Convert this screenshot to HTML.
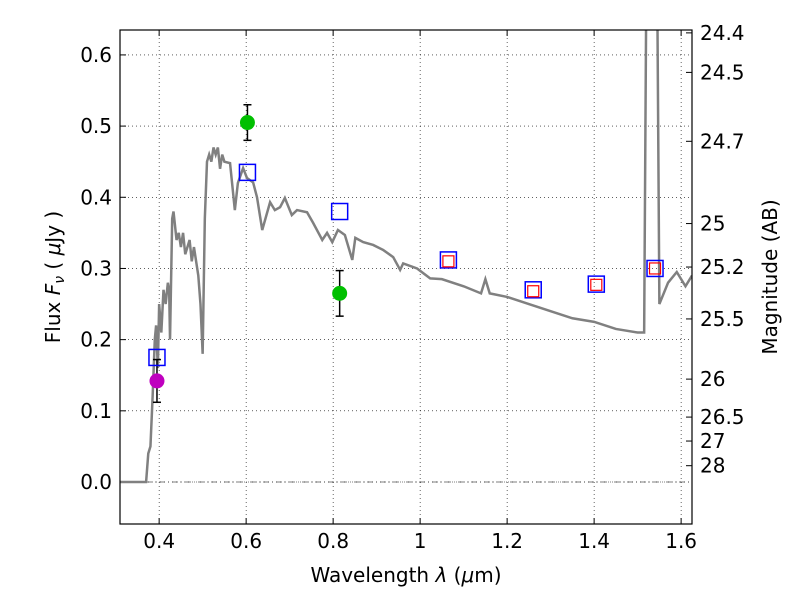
<!DOCTYPE html>
<html><head><meta charset="utf-8"><style>
body{margin:0;background:#fff;}
svg text{font-family:"DejaVu Sans","Liberation Sans",sans-serif;}
</style></head><body>
<svg id="chart" width="800" height="600" xmlns="http://www.w3.org/2000/svg"></svg>
<script>
const xTicks=[0.4,0.6,0.8,1.0,1.2,1.4,1.6];
const xTickLabels=["0.4","0.6","0.8","1","1.2","1.4","1.6"];
const yTicks=[0.0,0.1,0.2,0.3,0.4,0.5,0.6];
const yTickLabels=["0.0","0.1","0.2","0.3","0.4","0.5","0.6"];
const magTicks=[24.4,24.5,24.7,25,25.2,25.5,26,26.5,27,28];
const magLabels=["24.4","24.5","24.7","25","25.2","25.5","26","26.5","27","28"];
const specLam=[0.31,0.37,0.375,0.38,0.385,0.39,0.393,0.397,0.40,0.405,0.41,0.415,0.42,0.423,0.425,0.43,0.433,0.44,0.445,0.45,0.455,0.46,0.47,0.475,0.48,0.485,0.49,0.495,0.50,0.505,0.51,0.515,0.52,0.525,0.53,0.535,0.54,0.545,0.55,0.563,0.574,0.581,0.593,0.602,0.616,0.625,0.637,0.655,0.666,0.678,0.689,0.705,0.717,0.74,0.754,0.775,0.786,0.798,0.811,0.827,0.844,0.851,0.869,0.892,0.915,0.938,0.954,0.961,0.993,1.023,1.05,1.1,1.14,1.15,1.16,1.2,1.25,1.3,1.35,1.4,1.45,1.50,1.515,1.52,1.545,1.55,1.57,1.59,1.61,1.625];
const specFlux=[0,0,0.04,0.05,0.12,0.2,0.22,0.16,0.25,0.21,0.27,0.25,0.28,0.27,0.2,0.37,0.38,0.34,0.35,0.33,0.35,0.32,0.34,0.31,0.33,0.31,0.29,0.25,0.18,0.37,0.45,0.46,0.45,0.47,0.46,0.47,0.44,0.46,0.45,0.448,0.382,0.42,0.441,0.427,0.421,0.40,0.354,0.393,0.382,0.386,0.399,0.375,0.382,0.379,0.364,0.34,0.35,0.337,0.354,0.347,0.312,0.343,0.337,0.333,0.326,0.316,0.298,0.307,0.30,0.286,0.285,0.275,0.265,0.285,0.265,0.26,0.25,0.24,0.23,0.225,0.215,0.21,0.21,0.7,0.7,0.25,0.28,0.295,0.275,0.29];
const greenLam=[0.603,0.815], greenFlux=[0.505,0.265], greenErr=[0.025,0.032];
const purpleLam=[0.395], purpleFlux=[0.142], purpleErr=[0.03];
const blueLam=[0.395,0.603,0.815,1.065,1.26,1.405,1.54], blueFlux=[0.175,0.435,0.38,0.312,0.27,0.278,0.3];
const redLam=[1.065,1.26,1.405,1.54], redFlux=[0.31,0.268,0.277,0.3];

const L=120,R=692,T=30,B=524;
const xmin=0.31,xmax=1.625,ymin=-0.059,ymax=0.635;
const X=v=>L+(v-xmin)/(xmax-xmin)*(R-L);
const Y=v=>B-(v-ymin)/(ymax-ymin)*(B-T);
const svg=document.getElementById('chart');
const NS="http://www.w3.org/2000/svg";
function mk(tag,attrs,parent){const e=document.createElementNS(NS,tag);for(const k in attrs)e.setAttribute(k,attrs[k]);(parent||svg).appendChild(e);return e;}
const defs=mk('defs',{});const cp=mk('clipPath',{id:'clip'},defs);mk('rect',{x:L,y:T,width:R-L,height:B-T},cp);

xTicks.forEach((t,i)=>{
 const g=mk('line',{x1:X(t),x2:X(t),y1:T,y2:B,stroke:'#000','stroke-dasharray':'1,3','stroke-width':0.6});
 
 mk('line',{x1:X(t),x2:X(t),y1:B,y2:B-6,stroke:'#000'});mk('line',{x1:X(t),x2:X(t),y1:T,y2:T+6,stroke:'#000'});
 const tx=mk('text',{x:X(t),y:B+24,'font-size':20,'text-anchor':'middle'});tx.textContent=xTickLabels[i];
 
});
yTicks.forEach((t,i)=>{
 const g=mk('line',{x1:L,x2:R,y1:Y(t),y2:Y(t),stroke:'#000','stroke-dasharray':'1,3','stroke-width':0.6});
 
 mk('line',{x1:L,x2:L+6,y1:Y(t),y2:Y(t),stroke:'#000'});
 const tx=mk('text',{x:L-8,y:Y(t)+7,'font-size':20,'text-anchor':'end'});tx.textContent=yTickLabels[i];
 
});
magTicks.forEach((m,i)=>{
 const f=Math.pow(10,(23.9-m)/2.5);
 mk('line',{x1:R,x2:R-6,y1:Y(f),y2:Y(f),stroke:'#000'});
 const tx=mk('text',{x:R+8,y:Y(f)+7,'font-size':20});tx.textContent=magLabels[i];
 
});
mk('line',{x1:L,x2:R,y1:Y(0),y2:Y(0),stroke:'#000','stroke-dasharray':'6,3,1,3','stroke-width':0.6});

const gp=mk('g',{'clip-path':'url(#clip)'});
const sp=mk('polyline',{points:specLam.map((l,i)=>X(l)+','+Y(specFlux[i])).join(' '),fill:'none',stroke:'#808080','stroke-width':2.5},gp);


function pts(lams,fl,err,color,name){
 lams.forEach((l,i)=>{
  const g=mk('g',{},gp);
  const x=X(l),y1=Y(fl[i]-err[i]),y2=Y(fl[i]+err[i]);
  mk('line',{x1:x,x2:x,y1:y1,y2:y2,stroke:'#000','stroke-width':1.5},g);
  mk('line',{x1:x-4,x2:x+4,y1:y1,y2:y1,stroke:'#000','stroke-width':1.5},g);
  mk('line',{x1:x-4,x2:x+4,y1:y2,y2:y2,stroke:'#000','stroke-width':1.5},g);
  mk('circle',{cx:x,cy:Y(fl[i]),r:7.5,fill:color},g);
 });
}
pts(greenLam,greenFlux,greenErr,'#00bf00','green-photometry-point');
pts(purpleLam,purpleFlux,purpleErr,'#bf00bf','purple-photometry-point');
blueLam.forEach((l,i)=>{
 const r=mk('rect',{x:X(l)-8,y:Y(blueFlux[i])-8,width:16,height:16,fill:'none',stroke:'#0000ff','stroke-width':1.5},gp);
 
});
redLam.forEach((l,i)=>{
 const r=mk('rect',{x:X(l)-5.5,y:Y(redFlux[i])-5.5,width:11,height:11,fill:'none',stroke:'#ff0000','stroke-width':1.2},gp);
 
});

const fr=mk('rect',{x:L,y:T,width:R-L,height:B-T,fill:'none',stroke:'#000','stroke-width':1.2});

const xl=mk('text',{x:406,y:582,'font-size':20,'text-anchor':'middle'});
xl.innerHTML='Wavelength  <tspan font-style="italic">λ</tspan> (<tspan font-style="italic">μ</tspan>m)';

const yl=mk('text',{x:0,y:0,'font-size':20,'text-anchor':'middle',transform:'translate(60,277) rotate(-90)'});
yl.innerHTML='Flux  <tspan font-style="italic">F</tspan><tspan font-style="italic" font-size="14" dy="4">ν</tspan><tspan dy="-4">  ( </tspan><tspan font-style="italic">μ</tspan>Jy )';

const ml=mk('text',{x:0,y:0,'font-size':20,'text-anchor':'middle',transform:'translate(777,277) rotate(-90)'});
ml.textContent='Magnitude (AB)';

</script>
</body></html>
